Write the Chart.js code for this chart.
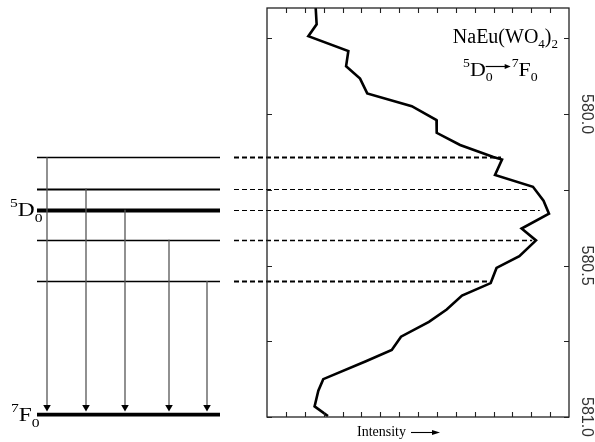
<!DOCTYPE html>
<html>
<head>
<meta charset="utf-8">
<script src="https://cdn.jsdelivr.net/npm/chart.js@4.4.1/dist/chart.umd.min.js"></script>
<style>
  html, body { margin: 0; padding: 0; background: #fff; }
  #wrap { width: 595px; height: 442px; }
</style>
</head>
<body>
<div id="wrap"><canvas id="myChart" width="595" height="442"></canvas></div>
<script>
// emission spectrum 5D0 -> 7F0 of NaEu(WO4)2 (wavelength in nm, intensity in arb. units)
var wavelengths = [579.65, 579.704, 579.743, 579.792, 579.842, 579.883, 579.932, 579.974,
                   580.020, 580.062, 580.102, 580.142, 580.150, 580.201, 580.240, 580.286,
                   580.329, 580.378, 580.417, 580.469, 580.508, 580.558, 580.599, 580.645,
                   580.686, 580.735, 580.779, 580.816, 580.875, 580.913, 580.965, 580.997];
var intensities = [2.58, 2.63, 2.19, 4.31, 4.19, 4.93, 5.31, 7.67,
                   8.98, 8.99, 10.23, 11.99, 12.45, 12.08, 14.09, 14.65,
                   14.94, 13.49, 14.25, 13.37, 12.16, 11.85, 10.33, 9.52,
                   8.58, 7.10, 6.61, 5.24, 2.98, 2.72, 2.52, 3.23];

// 5D0 sub-levels (as wavelengths of the peaks they give) and where the dashed line meets the curve
var levelNm = [580.143, 580.246, 580.316, 580.415, 580.551];
var peakIntensity = [12.4, 13.8, 14.45, 14.05, 11.8];
var groundNm = 580.992;

// axis ticks
var wavelengthTicks = [579.75, 580.0, 580.25, 580.5, 580.75, 581.0];
var intensityTicks = [1, 2, 3, 4, 5, 6, 7, 8, 9, 10, 11, 12, 13, 14, 15];

var serif = '"Liberation Serif", "Times New Roman", serif';

// level diagram layout (pixels)
var diagLeft = 37, diagRight = 220, dashStart = 234;
var arrowX = [47, 86, 125, 169, 207];
var levelWidth = [1.6, 1.8, 3.8, 1.6, 1.4];
var dashWidth = [1.8, 1.1, 1.1, 1.3, 1.8];

function richText(ctx, parts, x, y, sx) {
    ctx.save();
    ctx.translate(x, y);
    ctx.scale(sx || 1, 1);
    var cx = 0;
    parts.forEach(function (p) {
        ctx.font = p[1] + 'px ' + serif;
        ctx.fillText(p[0], cx, p[2]);
        cx += ctx.measureText(p[0]).width;
    });
    ctx.restore();
}

function richWidth(ctx, parts, sx) {
    var w = 0;
    parts.forEach(function (p) {
        ctx.font = p[1] + 'px ' + serif;
        w += ctx.measureText(p[0]).width;
    });
    return w * (sx || 1);
}

function arrowHead(ctx, x, y, dir, len, half) {
    // dir: 'down' or 'right', tip at (x, y)
    ctx.beginPath();
    if (dir === 'down') {
        ctx.moveTo(x, y);
        ctx.lineTo(x - half, y - len);
        ctx.lineTo(x + half, y - len);
    } else {
        ctx.moveTo(x, y);
        ctx.lineTo(x - len, y - half);
        ctx.lineTo(x - len, y + half);
    }
    ctx.closePath();
    ctx.fill();
}

var diagramPlugin = {
    id: 'diagram',
    beforeDatasetsDraw: function (chart) {
        var ctx = chart.ctx, xs = chart.scales.x, ys = chart.scales.y;
        ctx.save();
        ctx.strokeStyle = '#000';
        // dashed connectors level -> peak
        levelNm.forEach(function (nm, i) {
            var py = Math.round(ys.getPixelForValue(nm)) + 0.5;
            ctx.lineWidth = dashWidth[i];
            ctx.setLineDash([5, 3]);
            ctx.beginPath();
            ctx.moveTo(dashStart, py);
            ctx.lineTo(xs.getPixelForValue(peakIntensity[i]), py);
            ctx.stroke();
        });
        ctx.restore();
    },
    afterDraw: function (chart) {
        var ctx = chart.ctx, xs = chart.scales.x, ys = chart.scales.y;
        var a = chart.chartArea;
        ctx.save();
        ctx.setLineDash([]);

        // frame
        ctx.strokeStyle = '#222';
        ctx.lineWidth = 1.3;
        ctx.strokeRect(a.left, a.top, a.right - a.left, a.bottom - a.top);

        // inward tick marks
        ctx.lineWidth = 1.1;
        ctx.beginPath();
        intensityTicks.forEach(function (v) {
            var px = Math.round(xs.getPixelForValue(v)) + 0.5;
            ctx.moveTo(px, a.bottom); ctx.lineTo(px, a.bottom - 5);
            ctx.moveTo(px, a.top); ctx.lineTo(px, a.top + 5);
        });
        wavelengthTicks.forEach(function (v) {
            var py = Math.round(ys.getPixelForValue(v)) + 0.5;
            ctx.moveTo(a.left, py); ctx.lineTo(a.left + 5, py);
            ctx.moveTo(a.right, py); ctx.lineTo(a.right - 5, py);
        });
        ctx.stroke();

        // energy levels
        ctx.strokeStyle = '#000';
        levelNm.forEach(function (nm, i) {
            var py = Math.round(ys.getPixelForValue(nm)) + 0.5;
            ctx.lineWidth = levelWidth[i];
            ctx.beginPath();
            ctx.moveTo(diagLeft, py); ctx.lineTo(diagRight, py);
            ctx.stroke();
        });
        var gy = ys.getPixelForValue(groundNm);
        ctx.lineWidth = 3.8;
        ctx.beginPath();
        ctx.moveTo(diagLeft, gy); ctx.lineTo(diagRight, gy);
        ctx.stroke();

        // transitions
        ctx.fillStyle = '#000';
        arrowX.forEach(function (x, i) {
            var top = ys.getPixelForValue(levelNm[i]);
            ctx.strokeStyle = '#555';
            ctx.lineWidth = 1.3;
            ctx.beginPath();
            ctx.moveTo(x, top); ctx.lineTo(x, gy - 6);
            ctx.stroke();
            arrowHead(ctx, x, gy - 3, 'down', 6.5, 3.8);
        });

        // level labels
        ctx.fillStyle = '#000';
        ctx.textBaseline = 'alphabetic';
        ctx.textAlign = 'left';
        var d0y = ys.getPixelForValue(levelNm[2]);
        richText(ctx, [['5', 12, -9], ['D', 18, 0], ['0', 12, 6]], 10, d0y + 6, 1.3);
        richText(ctx, [['7', 12, -9], ['F', 18, 0], ['0', 12, 6]], 11, gy + 6, 1.3);

        // title inside plot
        var t1 = [['NaEu(WO', 20, 0], ['4', 13, 5], [')', 20, 0], ['2', 13, 5]];
        richText(ctx, t1, 558 - richWidth(ctx, t1), 43);

        var sx = 1.15, x0 = 463, base = 76;
        richText(ctx, [['5', 12, -9], ['D', 19, 0]], x0, base, sx);
        ctx.font = '19px ' + serif;
        var xD = x0 + richWidth(ctx, [['5', 12, 0], ['D', 19, 0]], sx);
        richText(ctx, [['0', 12, 5]], xD, base, sx);
        ctx.strokeStyle = '#000';
        ctx.lineWidth = 1.2;
        ctx.beginPath();
        ctx.moveTo(xD, base - 9.5); ctx.lineTo(xD + 20, base - 9.5);
        ctx.stroke();
        arrowHead(ctx, xD + 25, base - 9.5, 'right', 6, 2.6);
        richText(ctx, [['7', 12, -9], ['F', 19, 0], ['0', 12, 5]], xD + 26, base, sx);

        // x axis caption
        ctx.font = '14px ' + serif;
        ctx.fillText('Intensity', 357, 436);
        ctx.lineWidth = 1.1;
        ctx.beginPath();
        ctx.moveTo(411, 432.5); ctx.lineTo(433, 432.5);
        ctx.stroke();
        arrowHead(ctx, 440, 432.5, 'right', 8, 2.6);

        ctx.restore();
    }
};

var ctx = document.getElementById('myChart').getContext('2d');
var points = wavelengths.map(function (nm, i) { return { x: intensities[i], y: nm }; });

var myChart = new Chart(ctx, {
    type: 'scatter',
    data: {
        datasets: [{
            data: points,
            showLine: true,
            borderColor: '#000',
            borderWidth: 2.6,
            pointRadius: 0,
            tension: 0,
            borderJoinStyle: 'miter'
        }]
    },
    options: {
        responsive: false,
        animation: false,
        events: [],
        layout: { padding: { left: 267, top: 8, right: 0, bottom: 0 } },
        plugins: { legend: { display: false }, tooltip: { enabled: false } },
        scales: {
            x: {
                type: 'linear',
                min: 0,
                max: 16,
                ticks: { display: false, stepSize: 1 },
                grid: { display: false },
                border: { display: false },
                afterFit: function (s) { s.height = 25; }
            },
            y: {
                type: 'linear',
                position: 'right',
                reverse: true,
                min: 579.65,
                max: 581.0,
                grid: { display: false },
                border: { display: false },
                afterBuildTicks: function (s) {
                    s.ticks = wavelengthTicks.map(function (v) { return { value: v }; });
                },
                ticks: {
                    // negative rotation turns the labels clockwise (read top to bottom)
                    minRotation: -90,
                    maxRotation: -90,
                    crossAlign: 'center',
                    padding: -11,
                    color: '#333',
                    font: { family: 'Arial, "Liberation Sans", sans-serif', size: 16 },
                    callback: function (v) {
                        return Math.abs(v * 2 - Math.round(v * 2)) < 1e-6 ? v.toFixed(1) : '';
                    }
                },
                afterFit: function (s) { s.width = 26; }
            }
        }
    },
    plugins: [diagramPlugin]
});
</script>
</body>
</html>
